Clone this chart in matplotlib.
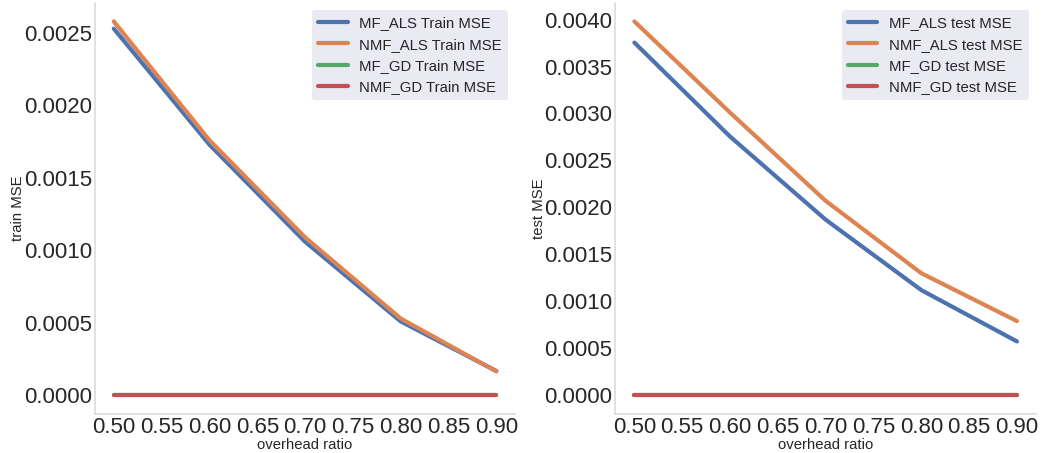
import matplotlib
matplotlib.use("Agg")
import matplotlib.pyplot as plt
import seaborn as sns

sns.set_theme(style="whitegrid")
plt.rcParams['font.family'] = ['Liberation Sans', 'DejaVu Sans']

ratios = [0.5, 0.6, 0.7, 0.8, 0.9]

# train MSE
mf_als_train = [0.00253, 0.00173, 0.00106, 0.00051, 0.000168]
nmf_als_train = [0.00258, 0.00176, 0.00109, 0.00053, 0.000165]
mf_gd_train = [0.0, 0.0, 0.0, 0.0, 0.0]
nmf_gd_train = [0.0, 0.0, 0.0, 0.0, 0.0]

# test MSE
mf_als_test = [0.003755, 0.002755, 0.00187, 0.00112, 0.000574]
nmf_als_test = [0.00398, 0.00301, 0.00207, 0.00130, 0.00079]
mf_gd_test = [0.0, 0.0, 0.0, 0.0, 0.0]
nmf_gd_test = [0.0, 0.0, 0.0, 0.0, 0.0]

colors = sns.color_palette("deep")

fig, axes = plt.subplots(1, 2, figsize=(10.46, 4.53), dpi=100)
fig.subplots_adjust(left=0.0905, right=0.9905, bottom=0.086, top=0.994, wspace=0.237)

panels = [
    (axes[0], [mf_als_train, nmf_als_train, mf_gd_train, nmf_gd_train],
     ["MF_ALS Train MSE", "NMF_ALS Train MSE", "MF_GD Train MSE", "NMF_GD Train MSE"],
     "train MSE", [0, 0.0005, 0.001, 0.0015, 0.002, 0.0025]),
    (axes[1], [mf_als_test, nmf_als_test, mf_gd_test, nmf_gd_test],
     ["MF_ALS test MSE", "NMF_ALS test MSE", "MF_GD test MSE", "NMF_GD test MSE"],
     "test MSE", [0, 0.0005, 0.001, 0.0015, 0.002, 0.0025, 0.003, 0.0035, 0.004]),
]

for ax, series, labels, ylabel, yticks in panels:
    for i, (vals, lab) in enumerate(zip(series, labels)):
        ax.plot(ratios, vals, color=colors[i], lw=3, label=lab, solid_capstyle='round')
    ax.grid(False)
    ax.set_xticks([0.5, 0.55, 0.6, 0.65, 0.7, 0.75, 0.8, 0.85, 0.9])
    ax.set_xticklabels(["%.2f" % t for t in ax.get_xticks()])
    ax.set_yticks(yticks)
    ax.set_yticklabels(["%.4f" % t for t in yticks])
    ax.tick_params(labelsize=16, length=0, pad=2)
    ax.set_xlabel("overhead ratio", fontsize=10.7, labelpad=0)
    ax.set_ylabel(ylabel, fontsize=10.7, labelpad=-1)
    sns.despine(ax=ax)
    for s in ["left", "bottom"]:
        ax.spines[s].set_color("#dddddd")
    leg = ax.legend(loc="upper right", fontsize=10.7, facecolor="#EAEAF2",
                    edgecolor="none", framealpha=1.0)

fig.savefig("out.png", dpi=100)
